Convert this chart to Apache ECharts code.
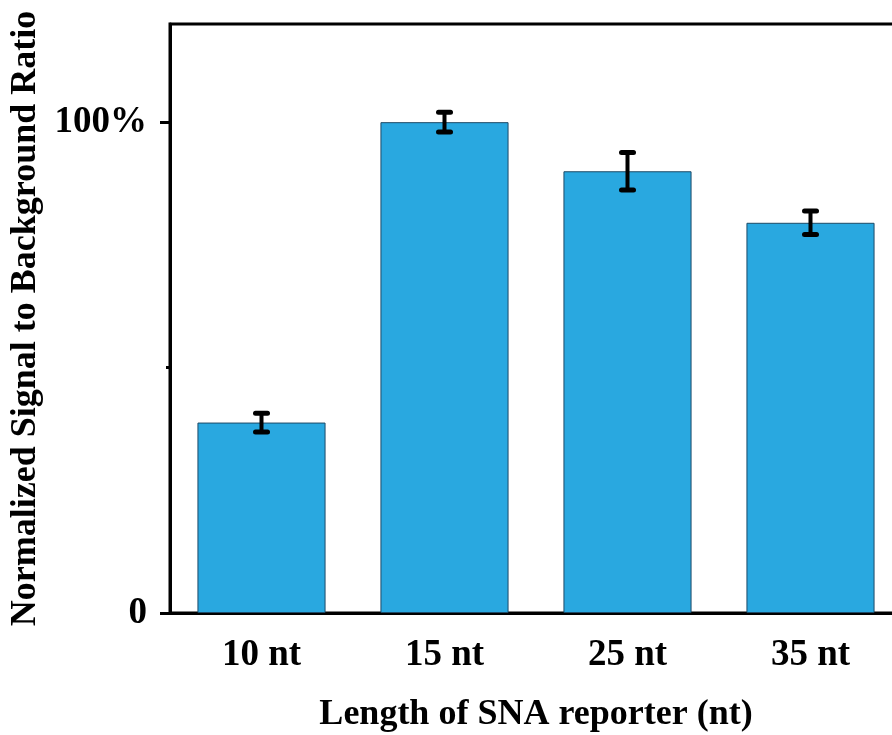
<!DOCTYPE html>
<html>
<head>
<meta charset="utf-8">
<script src="https://cdn.jsdelivr.net/npm/echarts@6/dist/echarts.min.js"></script>
<style>html,body{margin:0;padding:0;background:#fff;}#c{width:892px;height:735px;}</style>
</head>
<body>
<div id="c"></div>
<script>
const categories = ['10 nt', '15 nt', '25 nt', '35 nt'];
const values = [38.8, 100, 90.0, 79.5];
const errors = [1.9, 2.0, 3.8, 2.4];
const yLabelValues = [0, 100];
const yMinorTickValues = [50];

const FONT = 'Liberation Serif';
const chart = echarts.init(document.getElementById('c'));
const errData = categories.map((c, i) => [i, values[i] - errors[i], values[i] + errors[i]]);

chart.setOption({
  animation: false,
  backgroundColor: '#fff',
  grid: { left: 170, top: 24, width: 732, height: 589, containLabel: false, outerBoundsMode: 'none',
    show: true, borderColor: '#000', borderWidth: 3, backgroundColor: 'transparent' },
  xAxis: {
    type: 'category',
    data: categories,
    axisLine: { lineStyle: { color: '#000', width: 3 } },
    axisTick: { alignWithLabel: true, length: 9, lineStyle: { color: '#000', width: 3 } },
    axisLabel: { color: '#000', fontFamily: FONT, fontWeight: 'bold', fontSize: 37, margin: 24 },
    name: 'Length of SNA reporter (nt)',
    nameLocation: 'middle',
    nameGap: 84,
    nameTextStyle: { color: '#000', fontFamily: FONT, fontWeight: 'bold', fontSize: 36 }
  },
  yAxis: [{
    type: 'value',
    min: 0, max: 120,
    splitLine: { show: false },
    axisLine: { show: true, lineStyle: { color: '#000', width: 3 } },
    axisTick: { show: true, customValues: yLabelValues, length: 10, lineStyle: { color: '#000', width: 3 } },
    axisLabel: { customValues: yLabelValues, color: '#000', fontFamily: FONT, fontWeight: 'bold', fontSize: 37, margin: 23,
      formatter: v => v === 0 ? '0' : v + '%' },
    name: 'Normalized Signal to Background Ratio',
    nameLocation: 'middle',
    nameGap: 122,
    nameTextStyle: { color: '#000', fontFamily: FONT, fontWeight: 'bold', fontSize: 36 }
  }, {
    type: 'value',
    min: 0, max: 120,
    position: 'left',
    splitLine: { show: false },
    axisLine: { show: false },
    axisTick: { show: true, customValues: yMinorTickValues, length: 4, lineStyle: { color: '#000', width: 3 } },
    axisLabel: { show: false }
  }],
  series: [{
    type: 'bar',
    data: values,
    barWidth: '70%',
    itemStyle: { color: '#29A8E0', borderColor: '#1d4a66', borderWidth: 1 }
  }, {
    type: 'custom',
    data: errData,
    z: 10,
    renderItem: function (params, api) {
      const x = api.value(0);
      const lo = api.coord([x, api.value(1)]);
      const hi = api.coord([x, api.value(2)]);
      const hw = 6;
      const style = { stroke: '#000', lineWidth: 4 };
      const cap = { stroke: '#000', lineWidth: 5, lineCap: 'round' };
      return {
        type: 'group',
        children: [
          { type: 'line', shape: { x1: lo[0], y1: lo[1], x2: hi[0], y2: hi[1] }, style },
          { type: 'line', shape: { x1: lo[0] - hw, y1: lo[1], x2: lo[0] + hw, y2: lo[1] }, style: cap },
          { type: 'line', shape: { x1: hi[0] - hw, y1: hi[1], x2: hi[0] + hw, y2: hi[1] }, style: cap }
        ]
      };
    }
  }]
});
</script>
</body>
</html>
